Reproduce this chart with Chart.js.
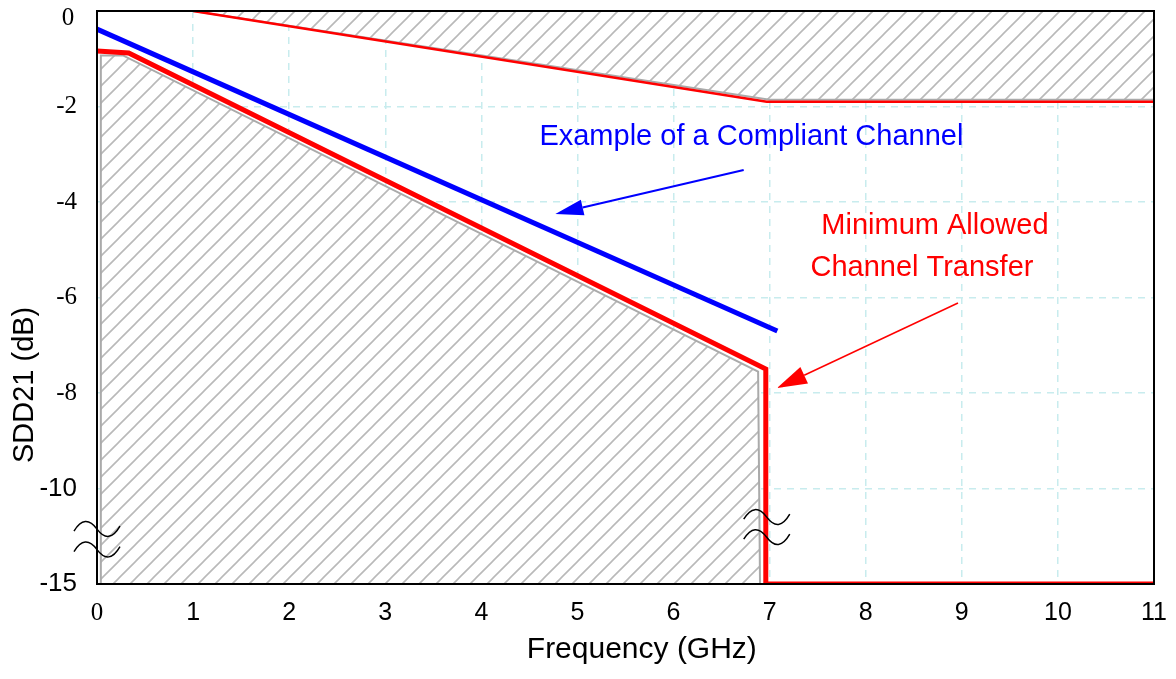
<!DOCTYPE html>
<html>
<head>
  <title>SDD21 Channel Mask</title>
  <script src="https://cdn.jsdelivr.net/npm/chart.js"></script>
  <style>
    body { margin: 0; background: #fff; }
  </style>
</head>
<body>
  <div style="width: 1176px; height: 679px;">
    <canvas id="maskChart"></canvas>
  </div>

  <script>
    // values: frequency in GHz, SDD21 in dB
    const xTickValues = [0, 1, 2, 3, 4, 5, 6, 7, 8, 9, 10, 11];
    const yTickValues = [0, -2, -4, -6, -8, -10, -15];

    const compliantFreq = [0, 7.08];
    const compliantLoss = [-0.38, -6.7];

    const minFreq = [0, 0.33, 6.96, 6.96, 11];
    const minLoss = [-0.84, -0.88, -7.5, -15, -15];

    const maxFreq = [1, 6.97, 11];
    const maxLoss = [0, -1.9, -1.9];

    const lowZoneFreq = [0.04, 0.04, 0.27, 6.88, 6.9];
    const lowZoneLoss = [-15, -0.93, -0.93, -7.55, -15];

    const highZoneFreq = [1, 7, 11, 11];
    const highZoneLoss = [0, -1.86, -1.86, 0];

    // the axis is broken between -10 and -15 dB, that stretch is drawn 2.5x shorter
    function toAxis(db) { return db >= -10 ? db : -10 + (db + 10) * 0.4; }
    function fromAxis(v) { return v >= -10 ? v : -10 + (v + 10) * 2.5; }
    function points(xs, ys) { return xs.map((x, i) => ({ x: x, y: toAxis(ys[i]) })); }

    function hatch() {
      const s = 17;
      const c = document.createElement('canvas');
      c.width = s;
      c.height = s;
      const g = c.getContext('2d');
      g.fillStyle = '#fff';
      g.fillRect(0, 0, s, s);
      g.strokeStyle = '#b9b9b9';
      g.lineWidth = 1.6;
      g.beginPath();
      g.moveTo(-2, s + 2); g.lineTo(s + 2, -2);
      g.moveTo(-2, 2); g.lineTo(2, -2);
      g.moveTo(s - 2, s + 2); g.lineTo(s + 2, s - 2);
      g.stroke();
      return g.createPattern(c, 'repeat');
    }

    function arrow(ctx, x1, y1, x2, y2, color, width, headLen, headHalf) {
      const ang = Math.atan2(y2 - y1, x2 - x1);
      const bx = x2 - headLen * Math.cos(ang);
      const by = y2 - headLen * Math.sin(ang);
      ctx.strokeStyle = color;
      ctx.fillStyle = color;
      ctx.lineWidth = width;
      ctx.beginPath();
      ctx.moveTo(x1, y1);
      ctx.lineTo(bx, by);
      ctx.stroke();
      ctx.beginPath();
      ctx.moveTo(x2, y2);
      ctx.lineTo(bx + headHalf * Math.sin(ang), by - headHalf * Math.cos(ang));
      ctx.lineTo(bx - headHalf * Math.sin(ang), by + headHalf * Math.cos(ang));
      ctx.closePath();
      ctx.fill();
    }

    function tilde(ctx, cx, cy) {
      ctx.beginPath();
      ctx.moveTo(cx - 23, cy + 2);
      ctx.quadraticCurveTo(cx - 12, cy - 16, cx, cy);
      ctx.quadraticCurveTo(cx + 12, cy + 16, cx + 23, cy - 3);
      ctx.stroke();
    }

    const sans = '"Liberation Sans", Arial, Helvetica, sans-serif';
    const serif = '"Liberation Serif", "Times New Roman", serif';
    const gridColor = 'rgb(200, 236, 238)';

    const annotations = {
      id: 'annotations',
      afterDatasetsDraw(chart) {
        const { ctx, chartArea: a, scales: { x, y } } = chart;
        const px = v => x.getPixelForValue(v);
        const py = v => y.getPixelForValue(v);
        ctx.save();

        // plot frame
        ctx.strokeStyle = '#000';
        ctx.lineWidth = 2;
        ctx.strokeRect(a.left, a.top, a.right - a.left, a.bottom - a.top);

        // call-outs
        ctx.font = '29px ' + sans;
        ctx.textAlign = 'center';
        ctx.textBaseline = 'middle';
        ctx.fillStyle = '#0000ff';
        ctx.fillText('Example of a Compliant Channel', px(6.81), py(-2.63));
        arrow(ctx, px(6.73), py(-3.33), px(4.77), py(-4.25), '#0000ff', 2, 28, 8);

        ctx.fillStyle = '#ff0000';
        ctx.fillText('Minimum Allowed', px(8.72), py(-4.5));
        ctx.fillText('Channel Transfer', px(8.585), py(-5.38));
        arrow(ctx, px(8.96), py(-6.115), px(7.077), py(-7.895), '#ff0000', 1.5, 30, 9);

        // axis break marks
        ctx.strokeStyle = '#000';
        ctx.lineWidth = 1.5;
        tilde(ctx, px(0), py(-10.85));
        tilde(ctx, px(0), py(-11.28));
        tilde(ctx, px(6.97), py(-10.6));
        tilde(ctx, px(6.97), py(-11.02));
        ctx.restore();
      },
      afterDraw(chart) {
        const { ctx, scales: { x, y } } = chart;
        ctx.save();
        ctx.fillStyle = '#000';
        ctx.textAlign = 'center';
        ctx.textBaseline = 'middle';
        // top tick label sits a little below its gridline, as in the original
        ctx.font = '25px ' + serif;
        ctx.fillText(String(yTickValues[0]), 68, y.getPixelForValue(0) + 7);
        ctx.font = '30px ' + sans;
        ctx.fillText('Frequency (GHz)', x.getPixelForValue(5.67), 650);
        ctx.font = '29px ' + sans;
        ctx.translate(25, y.getPixelForValue(-7.83));
        ctx.rotate(-Math.PI / 2);
        ctx.fillText('SDD21 (dB)', 0, 0);
        ctx.restore();
      }
    };

    const pattern = hatch();

    new Chart(document.getElementById('maskChart').getContext('2d'), {
      type: 'line',
      data: {
        datasets: [
          {
            label: 'Example of a Compliant Channel',
            data: points(compliantFreq, compliantLoss),
            borderColor: '#0000ff',
            borderWidth: 5,
            fill: false,
          },
          {
            label: 'Minimum Allowed Channel Transfer',
            data: points(minFreq, minLoss),
            borderColor: '#ff0000',
            borderWidth: 5,
            fill: false,
          },
          {
            label: 'Upper limit',
            data: points(maxFreq, maxLoss),
            borderColor: '#ff0000',
            borderWidth: 2.5,
            fill: false,
          },
          {
            label: 'Lower zone',
            data: points(lowZoneFreq, lowZoneLoss),
            borderColor: '#aaaaaa',
            borderWidth: 2,
            backgroundColor: pattern,
            fill: 'start',
          },
          {
            label: 'Upper zone',
            data: points(highZoneFreq, highZoneLoss),
            borderColor: '#aaaaaa',
            borderWidth: 2,
            backgroundColor: pattern,
            fill: 'end',
          },
        ],
      },
      options: {
        responsive: true,
        maintainAspectRatio: false,
        animation: false,
        layout: { padding: { top: 11, right: 22, left: 0, bottom: 0 } },
        elements: {
          point: { radius: 0 },
          line: { tension: 0, borderJoinStyle: 'miter', borderCapStyle: 'butt' },
        },
        plugins: {
          legend: { display: false },
          tooltip: { enabled: false },
        },
        scales: {
          x: {
            type: 'linear',
            min: 0,
            max: 11,
            afterBuildTicks: s => { s.ticks = xTickValues.map(v => ({ value: v })); },
            afterFit: s => { s.height = 95; s.paddingLeft = 0; s.paddingRight = 0; },
            grid: {
              color: c => (c.tick && c.tick.value > 0 && c.tick.value < 11) ? gridColor : 'rgba(0,0,0,0)',
              lineWidth: 1.5,
              drawTicks: false,
            },
            border: { display: true, color: '#000', width: 2, dash: [7, 6] },
            ticks: {
              color: '#000',
              padding: 14,
              maxRotation: 0,
              autoSkip: false,
              callback: v => String(v),
              font: c => (c.tick && c.tick.value === 0) ? { family: serif, size: 25 } : { family: sans, size: 25 },
            },
          },
          y: {
            type: 'linear',
            min: toAxis(-15),
            max: 0,
            afterBuildTicks: s => { s.ticks = yTickValues.map(v => ({ value: toAxis(v) })).reverse(); },
            afterFit: s => { s.width = 97; s.paddingTop = 0; s.paddingBottom = 0; },
            grid: {
              color: c => (c.tick && c.tick.value < 0 && c.tick.value > toAxis(-15)) ? gridColor : 'rgba(0,0,0,0)',
              lineWidth: 1.5,
              drawTicks: false,
            },
            border: { display: true, color: '#000', width: 2, dash: [7, 6] },
            ticks: {
              color: '#000',
              padding: 20,
              autoSkip: false,
              // the 0 label is drawn by the plugin, slightly lowered
              callback: v => v === 0 ? '' : String(Math.round(fromAxis(v))),
              font: c => (c.tick && c.tick.value >= -8) ? { family: serif, size: 25 } : { family: sans, size: 26 },
            },
          },
        },
      },
      plugins: [annotations],
    });
  </script>
</body>
</html>
